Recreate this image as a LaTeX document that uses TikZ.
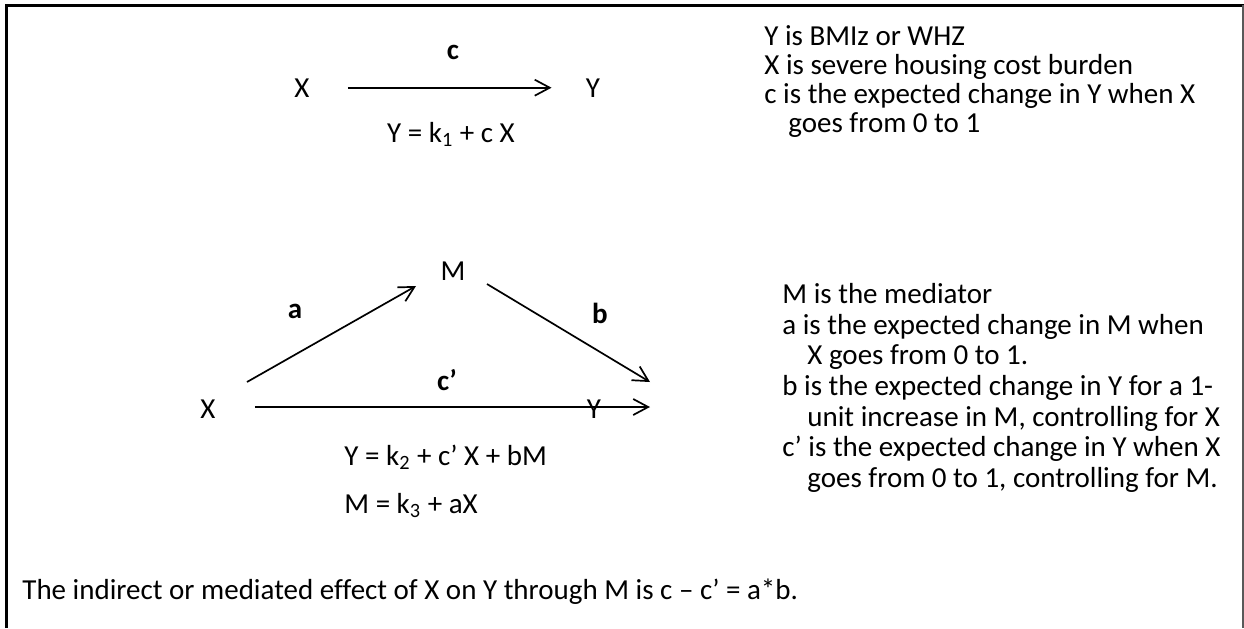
\documentclass[tikz,border=0pt]{standalone}
\usepackage{fontspec}
\setmainfont[Ligatures=NoCommon]{Carlito}
\usetikzlibrary{arrows.meta}
\begin{document}
\begin{tikzpicture}[x=0.5pt,y=-0.5pt,font=\fontsize{14.5}{17}\selectfont]
\tikzstyle{txt}=[inner sep=0pt, anchor=base]
\tikzstyle{lbl}=[txt, font=\fontsize{14.5}{17}\selectfont\bfseries]
\tikzstyle{row}=[txt, anchor=base west]
\tikzstyle{arr}=[line width=0.85pt, -{Straight Barb[length=7.5pt,width=8pt,line width=0.85pt]}]
\useasboundingbox (0,0) rectangle (1244,628);
\draw[line width=1.4pt] (6.5,628) -- (6.5,5.3) -- (1244,5.3);
\draw[gray!70!black, line width=0.6pt] (1243,5.3) -- (1243,628);
\node[txt] (x1) at (302,97) {X};
\node[txt] (y1) at (593,97) {Y};
\node[lbl] (c) at (453,59) {c};
\draw[arr, shorten <=19pt, shorten >=17pt] (x1.east) -- (y1.west);
\node[txt] (eq1) at (451,142) {Y = k\textsubscript{1} + c X};
\foreach \x/\y/\t [count=\i] in {764/45/{Y is BMIz or WHZ}, 764/74/{X is severe housing cost burden},
  764/103/{c is the expected change in Y when X}, 788/132/{goes from 0 to 1}}
\node[row] (top\i) at (\x,\y) {\t};
\node[txt] (m) at (453,280) {M};
\node[txt] (x2) at (208,418) {X};
\node[txt] (y2) at (594,418) {Y};
\node[lbl] (a) at (295,318) {a};
\node[lbl] (b) at (600,323) {b};
\node[lbl] (cp) at (447,390) {c’};
\coordinate (xa) at (247,382);
\coordinate (ma) at (416,286);
\coordinate (mb) at (487,284);
\coordinate (yb) at (650,382);
\coordinate (yc) at (650,407);
\draw[arr] (xa) -- (ma);
\draw[arr] (mb) -- (yb);
\draw[arr, shorten <=19.5pt] (x2.east |- yc) -- (yc);
\node[row] (eq2) at (344,465) {Y = k\textsubscript{2} + c’ X + bM};
\node[row] (eq3) at (344,513) {M = k\textsubscript{3} + aX};
\foreach \x/\y/\t [count=\i] in {782/303/{M is the mediator}, 782/334/{a is the expected change in M when},
  807/364/{X goes from 0 to 1.}, 782/395/{b is the expected change in Y for a 1-},
  807/426/{unit increase in M, controlling for X}, 782/456/{c’ is the expected change in Y when X},
  807/487/{goes from 0 to 1, controlling for M.}}
\node[row] (med\i) at (\x,\y) {\t};
\node[row] (note) at (22,599) {The indirect or mediated effect of X on Y through M is c – c’ = a*b.};
\end{tikzpicture}
\end{document}
